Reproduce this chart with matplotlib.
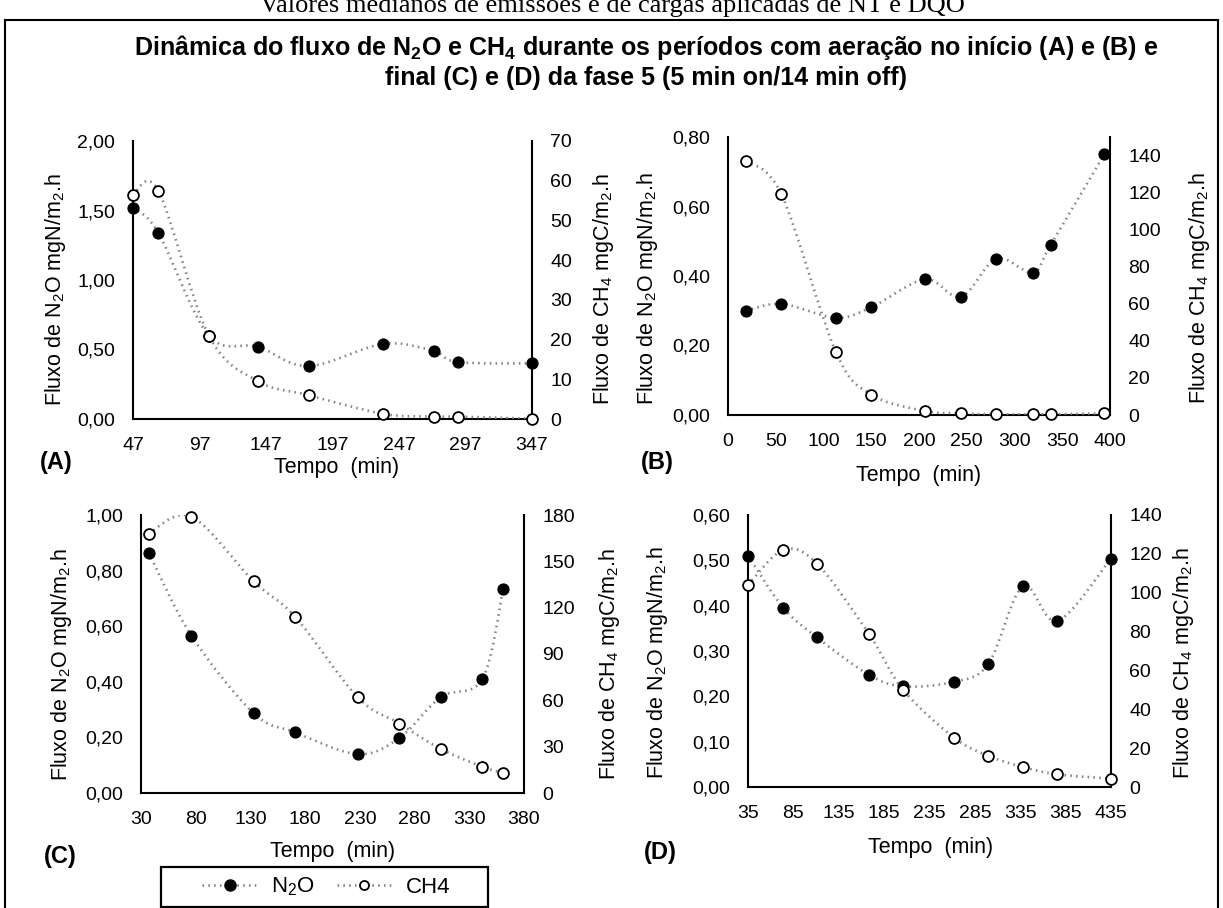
import numpy as np
import matplotlib
matplotlib.use("Agg")
from matplotlib import pyplot as plt
from matplotlib import font_manager as fm
from matplotlib.path import Path
from matplotlib.patches import PathPatch, Rectangle
from matplotlib.lines import Line2D
from matplotlib.ticker import FuncFormatter

# =============================================================================
# Dados
# =============================================================================
# (A) inicio, com aeracao
a_tempo = [47, 66, 104, 141, 179, 235, 273, 291, 347]
a_n2o = [1.52, 1.34, 0.60, 0.52, 0.38, 0.54, 0.49, 0.41, 0.40]
a_ch4 = [56.5, 57.5, 21.0, 9.5, 6.0, 1.3, 0.6, 0.6, 0.1]

# (B) inicio
b_tempo = [19, 56, 113, 150, 206, 244, 281, 319, 338, 394]
b_n2o = [0.30, 0.32, 0.28, 0.31, 0.39, 0.34, 0.45, 0.41, 0.49, 0.75]
b_ch4 = [137, 119, 34, 11, 2.2, 0.9, 0.4, 0.4, 0.4, 0.9]

# (C) final
c_tempo = [37, 76, 133, 171, 228, 266, 304, 342, 361]
c_n2o = [0.865, 0.566, 0.287, 0.218, 0.140, 0.198, 0.345, 0.41, 0.735]
c_ch4 = [168, 179, 137, 114, 62, 45, 28.5, 17, 13]

# (D) final
d_tempo = [35, 74, 111, 168, 206, 262, 300, 338, 376, 435]
d_n2o = [0.51, 0.395, 0.33, 0.248, 0.222, 0.232, 0.272, 0.443, 0.366, 0.504]
d_ch4 = [104, 122, 115, 79, 50, 25.4, 16, 10.3, 6.5, 4.3]

titulo_1 = "Dinâmica do fluxo de N$_2$O e CH$_4$ durante os períodos com aeração no início (A) e (B) e"
titulo_2 = "final (C) e (D) da fase 5 (5 min on/14 min off)"
texto_topo = "Valores medianos de emissões e de cargas aplicadas de NT e DQO"
label_n2o = "Fluxo de N$_2$O mgN/m$_2$.h"
label_ch4 = "Fluxo de CH$_4$ mgC/m$_2$.h"
label_x = "Tempo  (min)"

# =============================================================================
# Estilo
# =============================================================================
plt.rcParams['font.family'] = ['Liberation Sans', 'DejaVu Sans']
plt.rcParams['mathtext.fontset'] = 'custom'
plt.rcParams['mathtext.rm'] = 'Liberation Sans'
plt.rcParams['mathtext.default'] = 'regular'

names = {f.name for f in fm.fontManager.ttflist}
if 'Liberation Sans Narrow' in names:
    title_font, title_size = 'Liberation Sans Narrow', 21
else:
    title_font, title_size = 'Liberation Sans', 18

W, H = 1223, 908
GRAY = '#858585'
LS = (0, (0.6, 1.6))
TICK = 14
LAB = 15.5

fig = plt.figure(figsize=(W / 100, H / 100), dpi=100)


def fx(px):
    return px / W


def fy(py):
    return 1 - py / H


def smooth_path(x, y):
    # curva de Bezier (como a linha suavizada do Excel)
    p = np.column_stack([x, y]).astype(float)
    n = len(p)
    verts = [p[0]]
    codes = [Path.MOVETO]
    for i in range(n - 1):
        p0 = p[i - 1] if i > 0 else p[i]
        p3 = p[i + 2] if i + 2 < n else p[i + 1]
        verts += [p[i] + (p[i + 1] - p0) / 6, p[i + 1] - (p3 - p[i]) / 6, p[i + 1]]
        codes += [Path.CURVE4] * 3
    return Path(verts, codes)


def virgula(d):
    return FuncFormatter(lambda v, pos: ("%.*f" % (d, v)).replace('.', ','))


def panel(box, t, n2o, ch4, xlim, xstep, ylim, ystep, y2lim, y2ticks):
    l, r, top, b = box
    ax = fig.add_axes([fx(l), fy(b), (r - l) / W, (b - top) / H])
    ax2 = ax.twinx()
    for a in (ax, ax2):
        for s in a.spines.values():
            s.set_visible(False)
        a.tick_params(length=0, labelsize=TICK, pad=13)
    ax.spines['left'].set_visible(True)
    ax.spines['bottom'].set_visible(True)
    ax2.spines['right'].set_visible(True)
    for s in (ax.spines['left'], ax.spines['bottom'], ax2.spines['right']):
        s.set_linewidth(1.5)
        s.set_zorder(1)

    ax.set_xlim(*xlim)
    ax.set_xticks(np.arange(xlim[0], xlim[1] + 1, xstep))
    ax.set_ylim(*ylim)
    ax.set_yticks(np.arange(0, ylim[1] + ystep / 2, ystep))
    ax.yaxis.set_major_formatter(virgula(2))
    ax2.set_ylim(*y2lim)
    ax2.set_yticks(y2ticks)

    ax.add_patch(PathPatch(smooth_path(t, n2o), fill=False, ec=GRAY, lw=1.9, ls=LS, zorder=2))
    ax2.add_patch(PathPatch(smooth_path(t, ch4), fill=False, ec=GRAY, lw=1.9, ls=LS, zorder=2))
    ax.plot(t, n2o, 'o', ms=7.8, mfc='black', mec='black', ls='none', clip_on=False, zorder=5)
    ax2.plot(t, ch4, 'o', ms=7.8, mfc='white', mec='black', mew=1.3, ls='none', clip_on=False, zorder=5)
    return ax, ax2


panel((133, 532, 141, 419), a_tempo, a_n2o, a_ch4, (47, 347), 50, (0, 2.0), 0.5, (0, 70), np.arange(0, 71, 10))
panel((728, 1110, 137, 415), b_tempo, b_n2o, b_ch4, (0, 400), 50, (0, 0.8), 0.2, (0, 150), np.arange(0, 141, 20))
panel((141, 524, 515, 793), c_tempo, c_n2o, c_ch4, (30, 380), 50, (0, 1.0), 0.2, (0, 180), np.arange(0, 181, 30))
panel((748, 1111, 515, 787), d_tempo, d_n2o, d_ch4, (35, 435), 50, (0, 0.6), 0.1, (0, 140), np.arange(0, 141, 20))

# rotulos dos eixos
for x, y in [(56, 290), (62, 665), (648, 289), (657, 663)]:
    fig.text(fx(x), fy(y), label_n2o, rotation=90, ha='center', va='center', fontsize=LAB)
for x, y in [(604, 289), (610, 664), (1200, 288), (1184, 663)]:
    fig.text(fx(x), fy(y), label_ch4, rotation=90, ha='center', va='center', fontsize=LAB)
for x, y in [(337, 468), (919, 475), (333, 852), (931, 848)]:
    fig.text(fx(x), fy(y), label_x, ha='center', va='center', fontsize=LAB)
for s, x, y in [("(A)", 40, 463), ("(B)", 641, 463), ("(C)", 44, 857), ("(D)", 644, 853)]:
    fig.text(fx(x), fy(y), s, ha='left', va='center', fontsize=17, fontweight='bold')

# titulo
fig.text(fx(646), fy(47), titulo_1, ha='center', va='center', fontsize=title_size,
         fontweight='bold', family=title_font)
fig.text(fx(646), fy(78), titulo_2, ha='center', va='center', fontsize=title_size,
         fontweight='bold', family=title_font)
# texto da pagina cortado no topo
fig.text(fx(612), fy(12), texto_topo, ha='center', va='baseline', fontsize=19,
         family='Liberation Serif')

# moldura
for xs, ys in [([5, 5], [20, 915]), ([5, 1218], [20, 20]), ([1218, 1218], [20, 915])]:
    fig.add_artist(Line2D([fx(v) for v in xs], [fy(v) for v in ys], color='black', lw=1.5,
                          transform=fig.transFigure))

# legenda
fig.add_artist(Rectangle((fx(161), fy(907)), (488 - 161) / W, 40 / H, fill=False,
                         ec='black', lw=1.6, transform=fig.transFigure))
h1 = Line2D([], [], color=GRAY, ls=LS, lw=1.9, marker='o', ms=8, mfc='black', mec='black')
h2 = Line2D([], [], color=GRAY, ls=LS, lw=1.9, marker='o', ms=6.5, mfc='white', mec='black', mew=1.3)
fig.legend([h1, h2], ["N$_2$O", "CH4"], ncol=2, loc='center',
           bbox_to_anchor=(fx(326), fy(887)), fontsize=16, frameon=False,
           handlelength=2.5, handletextpad=0.6, columnspacing=1.0, numpoints=1)

fig.savefig("out.png", dpi=100)
